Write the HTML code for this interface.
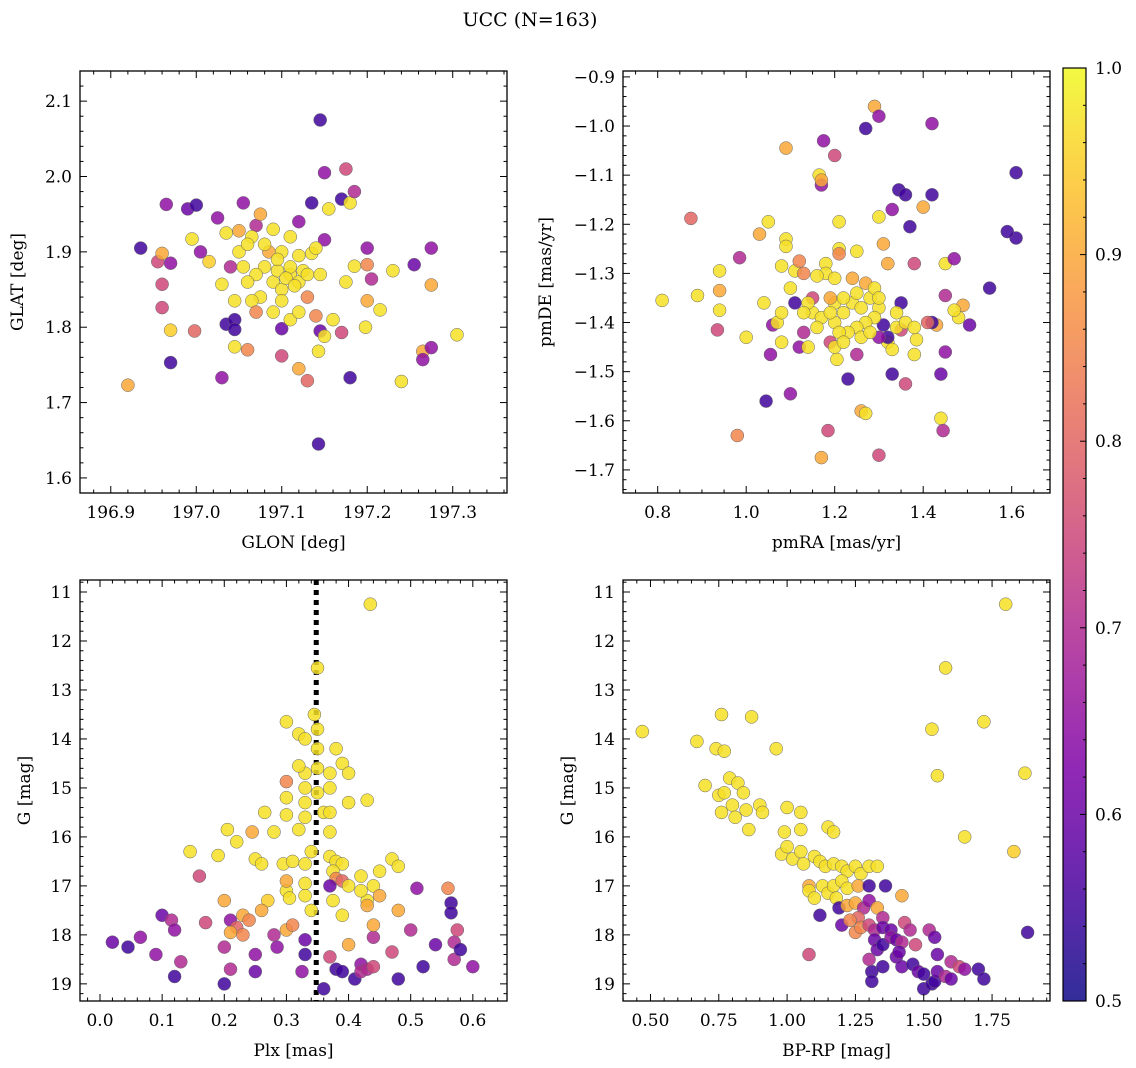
<!DOCTYPE html>
<html><head><meta charset="utf-8"><style>
html,body{margin:0;padding:0;background:#fff;}
svg{display:block;font-family:"DejaVu Serif","Liberation Serif",serif;}
</style></head><body>
<svg id="fig" width="1136" height="1068" xmlns="http://www.w3.org/2000/svg">
<text x="530" y="26" font-size="19" text-anchor="middle">UCC (N=163)</text>
</svg>
<script>
// Panel 1: GLON vs GLAT
const p1x=[197.145,197.143,196.935,196.965,196.99,197.0,196.955,196.96,196.97,196.96,196.96,196.97,196.97,196.92,196.995,197.005,197.015,196.998,197.025,197.03,197.035,197.045,197.045,197.045,197.035,197.05,197.04,197.03,197.055,197.06,197.07,197.075,197.065,197.1,197.1,197.12,197.13,197.12,197.135,197.17,197.175,197.15,197.155,197.18,197.185,197.15,197.145,197.143,197.15,197.16,197.17,197.18,197.175,197.185,197.2,197.2,197.205,197.2,197.198,197.215,197.23,197.24,197.255,197.265,197.265,197.275,197.275,197.275,197.305,197.135,197.14,197.145,197.14,197.11,197.08,197.09,197.1,197.11,197.12,197.095,197.105,197.115,197.125,197.085,197.07,197.075,197.06,197.065,197.09,197.11,197.12,197.13,197.13,197.1,197.11,197.09,197.08,197.05,197.055,197.045,197.07,197.1,197.095,197.12,197.06];
const p1y=[2.075,1.645,1.905,1.963,1.957,1.962,1.887,1.898,1.885,1.857,1.826,1.796,1.753,1.723,1.917,1.9,1.887,1.795,1.945,1.733,1.804,1.81,1.797,1.774,1.925,1.928,1.88,1.857,1.965,1.77,1.935,1.95,1.92,1.762,1.798,1.745,1.729,1.94,1.965,1.97,2.01,2.005,1.957,1.965,1.98,1.916,1.795,1.768,1.788,1.81,1.793,1.733,1.86,1.881,1.905,1.883,1.864,1.835,1.8,1.823,1.875,1.728,1.883,1.768,1.757,1.905,1.773,1.856,1.79,1.898,1.905,1.87,1.815,1.87,1.88,1.86,1.85,1.88,1.86,1.875,1.865,1.855,1.875,1.9,1.87,1.84,1.86,1.835,1.82,1.81,1.82,1.84,1.87,1.9,1.92,1.93,1.91,1.9,1.88,1.835,1.82,1.835,1.89,1.895,1.91];
const p1p=[0.55,0.55,0.55,0.65,0.6,0.55,0.75,0.9,0.65,0.75,0.75,0.95,0.55,0.9,0.97,0.65,0.95,0.8,0.65,0.65,0.55,0.55,0.55,0.97,0.97,0.9,0.7,0.97,0.65,0.85,0.7,0.9,0.97,0.75,0.6,0.9,0.8,0.65,0.55,0.55,0.75,0.65,0.97,0.97,0.7,0.65,0.6,0.97,0.97,0.97,0.75,0.55,0.97,0.97,0.65,0.85,0.7,0.9,0.97,0.97,0.97,0.97,0.6,0.9,0.65,0.65,0.65,0.9,0.97,0.97,0.97,0.97,0.85,0.97,0.97,0.97,0.97,0.97,0.97,0.97,0.97,0.97,0.97,0.9,0.97,0.97,0.97,0.97,0.97,0.97,0.97,0.85,0.97,0.97,0.97,0.97,0.97,0.97,0.97,0.97,0.85,0.97,0.97,0.97,0.97];
// Panel 2: pmRA vs pmDE
const p2x=[1.29,1.3,1.27,1.175,1.2,1.09,1.42,1.61,1.61,1.59,1.55,1.345,1.36,1.42,1.33,1.4,1.37,1.165,1.17,1.17,0.875,0.81,0.89,0.94,0.94,0.94,0.935,0.985,0.98,1.0,1.03,1.05,1.045,1.055,1.06,1.08,1.08,1.09,1.09,1.1,1.11,1.11,1.12,1.12,1.13,1.17,1.185,1.19,1.205,1.2,1.23,1.25,1.26,1.27,1.3,1.33,1.36,1.44,1.445,1.44,1.45,1.45,1.45,1.47,1.49,1.505,1.48,1.47,1.43,1.42,1.41,1.38,1.38,1.385,1.35,1.35,1.32,1.31,1.3,1.32,1.32,1.33,1.34,1.31,1.3,1.21,1.21,1.21,1.25,1.18,1.18,1.16,1.2,1.24,1.27,1.15,1.19,1.15,1.17,1.2,1.22,1.24,1.26,1.28,1.3,1.29,1.27,1.25,1.23,1.21,1.19,1.16,1.14,1.13,1.22,1.29,1.25,1.26,1.3,1.28,1.34,1.36,1.38,1.2,1.22,1.04,1.07,1.08,1.1,1.13,1.14];
const p2y=[-0.96,-0.98,-1.005,-1.03,-1.06,-1.045,-0.995,-1.095,-1.228,-1.215,-1.33,-1.13,-1.14,-1.14,-1.17,-1.165,-1.205,-1.1,-1.12,-1.11,-1.188,-1.355,-1.345,-1.295,-1.335,-1.375,-1.415,-1.268,-1.63,-1.43,-1.22,-1.195,-1.56,-1.465,-1.405,-1.44,-1.285,-1.23,-1.245,-1.545,-1.36,-1.295,-1.275,-1.45,-1.42,-1.675,-1.62,-1.44,-1.475,-1.36,-1.515,-1.465,-1.58,-1.585,-1.67,-1.505,-1.525,-1.595,-1.62,-1.505,-1.46,-1.345,-1.28,-1.27,-1.365,-1.405,-1.39,-1.375,-1.405,-1.4,-1.4,-1.28,-1.465,-1.435,-1.415,-1.36,-1.28,-1.24,-1.185,-1.44,-1.43,-1.455,-1.41,-1.405,-1.43,-1.195,-1.25,-1.26,-1.255,-1.28,-1.3,-1.305,-1.31,-1.31,-1.32,-1.35,-1.35,-1.38,-1.39,-1.4,-1.38,-1.36,-1.37,-1.35,-1.37,-1.39,-1.4,-1.41,-1.42,-1.42,-1.38,-1.41,-1.36,-1.38,-1.35,-1.33,-1.34,-1.43,-1.35,-1.42,-1.38,-1.4,-1.41,-1.45,-1.44,-1.36,-1.4,-1.38,-1.33,-1.3,-1.45];
const p2p=[0.9,0.65,0.55,0.65,0.75,0.9,0.65,0.55,0.55,0.55,0.55,0.55,0.55,0.55,0.65,0.9,0.55,0.97,0.65,0.9,0.8,0.97,0.97,0.97,0.9,0.97,0.75,0.7,0.85,0.97,0.9,0.97,0.55,0.65,0.65,0.97,0.97,0.97,0.97,0.65,0.55,0.97,0.85,0.65,0.7,0.9,0.75,0.75,0.97,0.97,0.55,0.7,0.9,0.97,0.75,0.55,0.75,0.97,0.7,0.6,0.65,0.7,0.97,0.65,0.9,0.6,0.97,0.97,0.9,0.55,0.8,0.75,0.97,0.97,0.75,0.55,0.9,0.9,0.97,0.97,0.55,0.97,0.97,0.55,0.65,0.97,0.97,0.85,0.97,0.97,0.97,0.97,0.97,0.9,0.9,0.75,0.9,0.97,0.97,0.97,0.97,0.97,0.97,0.97,0.97,0.97,0.97,0.97,0.97,0.97,0.97,0.97,0.97,0.97,0.97,0.97,0.97,0.97,0.97,0.97,0.97,0.97,0.97,0.97,0.97,0.97,0.97,0.97,0.97,0.85,0.97];
// Panel 3: Plx vs G
const p3x=[0.435,0.35,0.345,0.35,0.3,0.32,0.33,0.38,0.35,0.39,0.35,0.33,0.37,0.32,0.3,0.4,0.3,0.33,0.35,0.37,0.33,0.36,0.37,0.4,0.43,0.265,0.3,0.33,0.37,0.32,0.28,0.245,0.205,0.22,0.19,0.145,0.16,0.25,0.26,0.295,0.31,0.33,0.34,0.37,0.38,0.39,0.375,0.38,0.37,0.39,0.42,0.44,0.45,0.47,0.48,0.43,0.43,0.375,0.39,0.3,0.305,0.3,0.33,0.33,0.34,0.27,0.26,0.23,0.2,0.21,0.22,0.24,0.21,0.23,0.3,0.31,0.17,0.1,0.115,0.12,0.13,0.09,0.065,0.045,0.02,0.12,0.2,0.21,0.2,0.25,0.25,0.28,0.285,0.33,0.33,0.325,0.36,0.37,0.38,0.39,0.4,0.42,0.41,0.42,0.43,0.44,0.44,0.47,0.48,0.48,0.5,0.51,0.52,0.54,0.56,0.565,0.565,0.57,0.57,0.575,0.58,0.6,0.44,0.42,0.4,0.45];
const p3y=[11.25,12.55,13.5,13.8,13.65,13.9,14.0,14.2,14.2,14.5,14.6,14.7,14.7,14.55,14.87,14.7,15.2,15.0,15.1,15.0,15.3,15.5,15.5,15.3,15.25,15.5,15.55,15.6,15.9,15.85,15.9,15.9,15.85,16.1,16.38,16.3,16.8,16.45,16.55,16.55,16.5,16.55,16.3,16.4,16.5,16.55,16.7,16.85,17.0,16.9,16.8,17.0,16.7,16.45,16.6,17.3,17.4,17.3,17.6,17.1,17.25,16.9,16.95,17.2,17.5,17.3,17.5,17.6,17.3,17.7,17.85,17.7,17.95,18.0,17.9,17.8,17.75,17.6,17.7,17.9,18.55,18.4,18.05,18.25,18.15,18.85,18.25,18.7,19.0,18.4,18.75,18.0,18.25,18.1,18.4,18.75,19.1,18.45,18.7,18.75,18.2,18.6,18.9,18.75,18.7,18.65,18.05,18.35,17.5,18.9,17.9,17.05,18.65,18.2,17.05,17.35,17.55,18.15,18.5,17.9,18.3,18.65,17.8,17.1,17.0,17.2];
const p3p=[0.97,0.97,0.97,0.97,0.97,0.97,0.97,0.97,0.97,0.97,0.97,0.97,0.97,0.97,0.85,0.97,0.97,0.97,0.97,0.97,0.97,0.97,0.97,0.97,0.97,0.97,0.97,0.97,0.97,0.97,0.97,0.9,0.97,0.97,0.97,0.97,0.75,0.97,0.97,0.97,0.97,0.97,0.97,0.97,0.97,0.97,0.97,0.85,0.6,0.8,0.97,0.97,0.97,0.97,0.97,0.97,0.9,0.97,0.97,0.97,0.97,0.9,0.97,0.97,0.97,0.95,0.9,0.9,0.9,0.65,0.8,0.85,0.9,0.85,0.9,0.85,0.75,0.6,0.7,0.65,0.7,0.65,0.65,0.55,0.6,0.55,0.7,0.7,0.55,0.65,0.6,0.7,0.65,0.6,0.55,0.65,0.55,0.75,0.55,0.55,0.9,0.65,0.55,0.7,0.7,0.75,0.7,0.75,0.9,0.55,0.7,0.65,0.55,0.6,0.85,0.55,0.55,0.7,0.7,0.75,0.55,0.65,0.9,0.97,0.97,0.9];
// Panel 4: BP-RP vs G
const p4x=[1.8,1.58,0.47,0.67,0.76,0.87,0.74,0.77,0.96,1.53,1.72,1.55,1.87,0.7,0.75,0.77,0.79,0.82,0.84,0.76,0.8,0.81,0.85,0.86,0.9,1.0,0.91,1.05,1.05,0.99,1.15,1.17,1.65,1.83,0.98,1.0,1.02,1.05,1.06,1.1,1.12,1.14,1.17,1.2,1.22,1.25,1.27,1.3,1.33,1.08,1.08,1.1,1.13,1.15,1.17,1.2,1.22,1.26,1.3,1.36,1.42,1.18,1.19,1.12,1.22,1.25,1.28,1.3,1.33,1.35,1.26,1.2,1.25,1.27,1.3,1.32,1.35,1.38,1.43,1.45,1.32,1.33,1.35,1.38,1.4,1.42,1.47,1.52,1.54,1.55,1.6,1.63,1.65,1.7,1.72,1.88,1.08,1.31,1.31,1.35,1.4,1.42,1.46,1.48,1.5,1.5,1.53,1.54,1.55,1.58,1.6,1.41,1.3,1.23];
const p4y=[11.25,12.55,13.85,14.05,13.5,13.55,14.2,14.25,14.2,13.8,13.65,14.75,14.7,14.95,15.15,15.1,14.8,14.9,15.1,15.5,15.35,15.6,15.45,15.85,15.35,15.4,15.5,15.5,15.85,15.9,15.8,15.9,16.0,16.3,16.35,16.2,16.45,16.3,16.55,16.4,16.5,16.6,16.55,16.6,16.7,16.6,16.75,16.6,16.6,17.0,17.1,17.25,17.0,17.15,17.0,16.9,17.05,17.0,17.0,17.0,17.2,17.25,17.45,17.6,17.4,17.35,17.45,17.3,17.45,17.65,17.65,17.8,17.95,17.85,17.8,17.9,17.85,17.9,17.75,17.9,18.1,18.3,18.2,18.05,18.1,18.15,18.2,17.9,18.05,18.4,18.55,18.65,18.7,18.7,18.9,17.95,18.4,18.75,18.95,18.65,18.45,18.65,18.6,18.75,18.8,19.1,19.0,18.95,18.75,18.85,18.9,18.35,18.5,17.7];
const p4p=[0.97,0.97,0.97,0.97,0.97,0.97,0.97,0.97,0.97,0.97,0.97,0.97,0.97,0.97,0.97,0.97,0.97,0.97,0.97,0.97,0.97,0.97,0.97,0.97,0.97,0.97,0.97,0.97,0.97,0.97,0.97,0.97,0.97,0.95,0.97,0.97,0.97,0.97,0.97,0.97,0.97,0.97,0.97,0.97,0.97,0.97,0.97,0.97,0.97,0.9,0.97,0.97,0.97,0.97,0.97,0.97,0.97,0.9,0.55,0.55,0.9,0.97,0.55,0.55,0.9,0.9,0.7,0.65,0.9,0.7,0.8,0.6,0.85,0.85,0.75,0.7,0.6,0.6,0.75,0.7,0.6,0.6,0.55,0.65,0.6,0.7,0.75,0.7,0.6,0.6,0.7,0.75,0.65,0.55,0.55,0.55,0.75,0.55,0.55,0.55,0.6,0.6,0.55,0.6,0.55,0.55,0.55,0.55,0.6,0.7,0.6,0.6,0.7,0.85];
const cbTicks=[0.5,0.6,0.7,0.8,0.9,1.0];

const NS='http://www.w3.org/2000/svg';
const svg=document.getElementById('fig');
function mk(tag,attrs,parent){const e=document.createElementNS(NS,tag);for(const k in attrs)e.setAttribute(k,attrs[k]);(parent||svg).appendChild(e);return e;}
const stops=[[0,[13,8,135]],[0.125,[76,2,161]],[0.25,[126,3,168]],[0.375,[168,34,150]],[0.5,[204,71,120]],[0.625,[230,108,92]],[0.75,[248,149,64]],[0.875,[253,195,40]],[1,[240,249,33]]];
function plasma(v){let t=Math.max(0,Math.min(1,(v-0.5)/0.5));for(let i=1;i<stops.length;i++){if(t<=stops[i][0]){const a=stops[i-1],b=stops[i];const f=(t-a[0])/(b[0]-a[0]);const c=a[1].map((x,j)=>Math.round(x+(b[1][j]-x)*f));return `rgb(${c[0]},${c[1]},${c[2]})`;}}return 'rgb(240,249,33)';}
function fmt(v,d){const s=Math.abs(v).toFixed(d);return (v<-1e-9?'\u2212':'')+s;}
const FS=17;

function panel(o){
  const g=mk('g',{});
  
  
  const sx=v=>o.L+(v-o.x0)/(o.x1-o.x0)*(o.R-o.L);
  const sy=o.invert?(v=>o.T+(v-o.y0)/(o.y1-o.y0)*(o.B-o.T)):(v=>o.B-(v-o.y0)/(o.y1-o.y0)*(o.B-o.T));
  const clip=mk('clipPath',{id:'c'+o.name},g);mk('rect',{x:o.L,y:o.T,width:o.R-o.L,height:o.B-o.T},clip);
  const pts=mk('g',{'clip-path':'url(#c'+o.name+')'},g);
  if(o.vline!==undefined){const l=mk('line',{x1:sx(o.vline),x2:sx(o.vline),y1:o.T,y2:o.B,stroke:'#000','stroke-width':5,'stroke-dasharray':'5,5'},pts);
    
    }
  for(let i=0;i<o.xs.length;i++){
    const c=mk('circle',{cx:sx(o.xs[i]).toFixed(1),cy:sy(o.ys[i]).toFixed(1),r:6.5,fill:plasma(o.ps[i]),'fill-opacity':0.85,stroke:'#666','stroke-width':0.5},pts);
    
    
  }
  mk('rect',{x:o.L,y:o.T,width:o.R-o.L,height:o.B-o.T,fill:'none',stroke:'#000','stroke-width':1.3},g);
  const tk=mk('g',{stroke:'#000','stroke-width':1},g);
  const eps=1e-6;
  for(let k=Math.ceil(o.x0/o.xmin-eps);k*o.xmin<=o.x1+eps;k++){
    const v=k*o.xmin;const x=sx(v);if(x<o.L-0.5||x>o.R+0.5)continue;
    const isMaj=Math.abs(v/o.xmaj-Math.round(v/o.xmaj))<1e-4;const len=isMaj?7:3.5;
    mk('line',{x1:x,x2:x,y1:o.B,y2:o.B-len},tk);mk('line',{x1:x,x2:x,y1:o.T,y2:o.T+len},tk);
    if(isMaj){const t=mk('text',{x:x,y:o.B+25,'font-size':FS,'text-anchor':'middle'},g);t.textContent=fmt(v,o.xd);
      
      }
  }
  const ylo=Math.min(o.y0,o.y1),yhi=Math.max(o.y0,o.y1);
  for(let k=Math.ceil(ylo/o.ymin-eps);k*o.ymin<=yhi+eps;k++){
    const v=k*o.ymin;const y=sy(v);if(y<o.T-0.5||y>o.B+0.5)continue;
    const isMaj=Math.abs(v/o.ymaj-Math.round(v/o.ymaj))<1e-4;const len=isMaj?7:3.5;
    mk('line',{x1:o.L,x2:o.L+len,y1:y,y2:y},tk);mk('line',{x1:o.R,x2:o.R-len,y1:y,y2:y},tk);
    if(isMaj){const t=mk('text',{x:o.L-8,y:y+6,'font-size':FS,'text-anchor':'end'},g);t.textContent=fmt(v,o.yd);
      
      }
  }
  const xt=mk('text',{x:(o.L+o.R)/2,y:o.B+55,'font-size':FS,'text-anchor':'middle'},g);xt.textContent=o.xl;
  
  
  const yx=o.ylx,yy=(o.T+o.B)/2;
  const yt=mk('text',{x:yx,y:yy,'font-size':FS,'text-anchor':'middle',transform:`rotate(-90 ${yx} ${yy})`},g);yt.textContent=o.yl;
  
  
}
panel({name:'glon-glat-panel',L:80,R:507,T:71,B:493,x0:196.864,x1:197.3635,y0:1.58,y1:2.14,xmaj:0.1,xmin:0.02,ymaj:0.1,ymin:0.02,xd:1,yd:1,xs:p1x,ys:p1y,ps:p1p,xl:'GLON [deg]',yl:'GLAT [deg]',ylx:23});
panel({name:'pm-panel',L:623,R:1050,T:71,B:493,x0:0.7216,x1:1.6866,y0:-1.747,y1:-0.888,xmaj:0.2,xmin:0.05,ymaj:0.1,ymin:0.02,xd:1,yd:1,xs:p2x,ys:p2y,ps:p2p,xl:'pmRA [mas/yr]',yl:'pmDE [mas/yr]',ylx:551});
panel({name:'plx-g-panel',L:80,R:507,T:580,B:1001,x0:-0.0322,x1:0.655,y0:10.755,y1:19.35,invert:true,xmaj:0.1,xmin:0.02,ymaj:1,ymin:0.2,xd:1,yd:0,xs:p3x,ys:p3y,ps:p3p,xl:'Plx [mas]',yl:'G [mag]',ylx:30,vline:0.348});
panel({name:'cmd-panel',L:623,R:1050,T:580,B:1001,x0:0.3995,x1:1.962,y0:10.755,y1:19.35,invert:true,xmaj:0.25,xmin:0.05,ymaj:1,ymin:0.2,xd:2,yd:0,xs:p4x,ys:p4y,ps:p4p,xl:'BP-RP [mag]',yl:'G [mag]',ylx:573});

const cb=mk('g',{});


const defs=mk('defs',{},cb);const lg=mk('linearGradient',{id:'cbg',x1:0,y1:1,x2:0,y2:0},defs);
for(let i=0;i<=20;i++){mk('stop',{offset:i/20,'stop-color':plasma(0.5+i/40),'stop-opacity':0.85},lg);}
const cT=68,cB=1001,cL=1063,cR=1086;
mk('rect',{x:cL,y:cT,width:cR-cL,height:cB-cT,fill:'url(#cbg)',stroke:'#000','stroke-width':1.2},cb);
const cy=v=>cB-(v-0.5)/0.5*(cB-cT);
for(let k=25;k<=50;k++){const v=k*0.02;const y=cy(v);const maj=k%5===0;mk('line',{x1:cR,x2:cR-(maj?6:3),y1:y,y2:y,stroke:'#000'},cb);}
cbTicks.forEach(v=>{const t=mk('text',{x:1095,y:cy(v)+6,'font-size':FS},cb);t.textContent=v.toFixed(1);
  
  });
</script>
</body></html>
